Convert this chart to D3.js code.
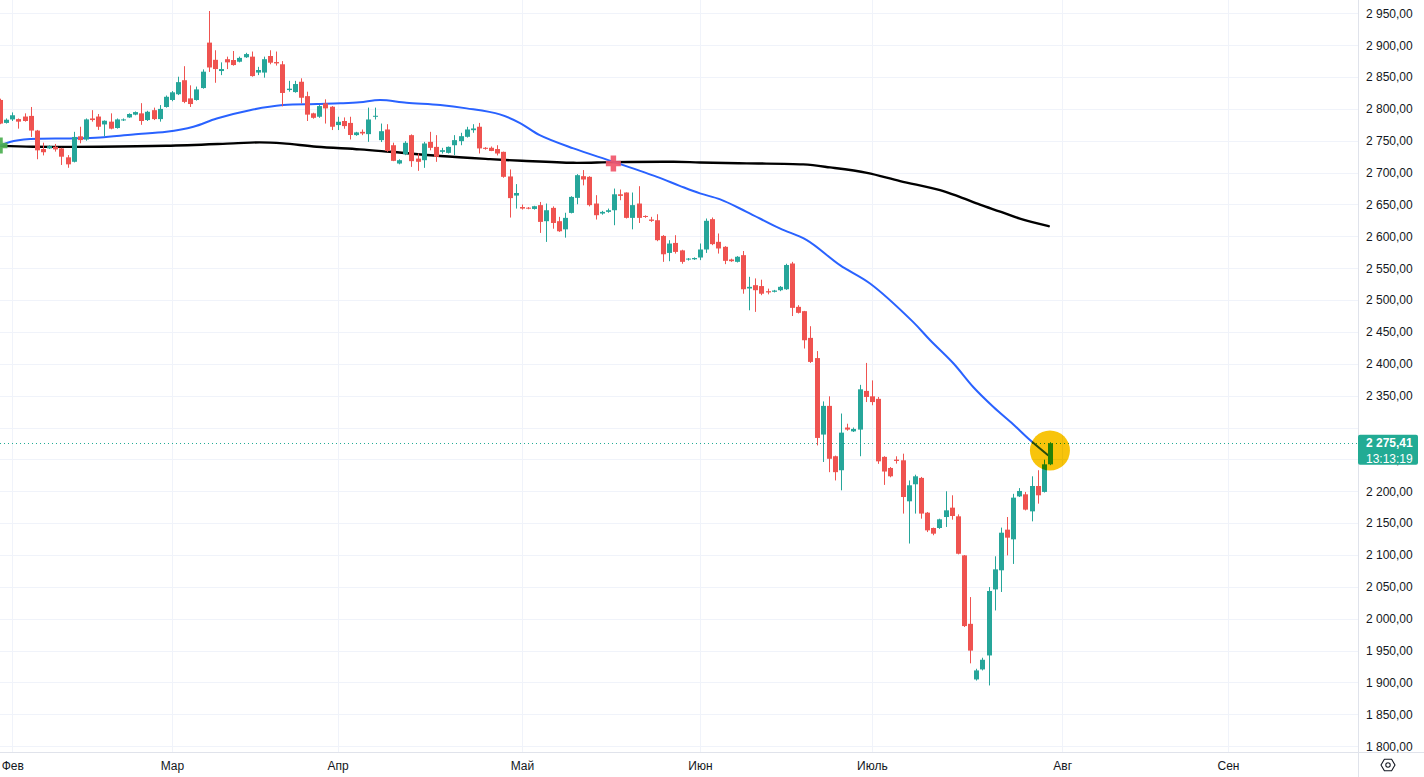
<!DOCTYPE html>
<html><head><meta charset="utf-8">
<script src="https://cdn.jsdelivr.net/npm/d3@7"></script>
<style>
html,body{margin:0;padding:0;background:#fff;}
svg{display:block;font-family:"Liberation Sans",Arial,sans-serif;}
</style></head><body>
<svg id="chart" width="1424" height="777"></svg>
<script>
// ---------- DATA ----------
const opens = [2814,2778,2783.5,2784,2788,2789,2766,2737,2738,2740.6,
2738,2724,2717,2757,2752,2785,2788,2775.6,2780,2770,
2782,2786.6,2791,2793,2782.5,2798,2784,2803,2814,2823,
2845,2816.5,2814,2832.7,2904,2877,2859.4,2878,2876.7,2874,
2881,2882,2857,2857,2883,2873.5,2870,2829.6,2826.4,2842.6,
2820,2793,2787.7,2808.6,2803.4,2774.6,2781,2778,2758.9,2764,
2760.4,2787.6,2751,2767.7,2743,2714.3,2729,2758.8,2722,2719.5,
2748.3,2740.4,2732.6,2731,2743,2749.4,2756.2,2766.6,2772,2739,
2739,2737,2732.6,2694,2664,2646,2645,2643,2649,2623.8,
2644.7,2623.8,2611,2636.8,2660.4,2694.4,2693.4,2651.5,2635.8,2638.4,
2641,2666,2668.8,2629,2651.5,2632,2626.4,2625.3,2600.7,2574,
2589.7,2578,2563.6,2564,2566.8,2579.4,2627,2591.4,2583.6,2563.7,
2560,2570.5,2518.2,2523.4,2522,2514,2513,2515.5,2517,2557.4,
2489.4,2482.6,2440.7,2409,2289,2334,2255,2233,2300,2294,
2296.8,2357.5,2349,2345,2254,2236.6,2249.7,2248.6,2184.3,2211,
2221,2166.4,2142.4,2142.4,2159.6,2174.3,2160.7,2099.4,1992,1904.8,
1920.5,1942.4,2046,2076,2139.8,2124.6,2192,2195.2,2168.5,2208.3,
2199,2242.3];
const highs = [2816,2785,2794.5,2785,2793,2803,2767,2747,2743,2745,
2739,2727.5,2764,2772,2785,2798,2792,2782,2793,2785,
2785,2793,2796,2809,2797,2802,2806,2821,2828,2850.5,
2867,2837,2835,2862,2953.6,2892,2873,2882,2890.8,2882,
2888,2890,2866,2882,2892,2890,2875,2844,2844,2848,
2827,2794,2806,2815,2804.4,2787.7,2786.6,2787.7,2764,2767.7,
2802,2802,2777,2776,2747,2721,2749.4,2760,2730,2748.3,
2764,2758.8,2738.9,2741,2758.8,2762.5,2771.9,2776,2778,2740,
2741,2743,2733,2705,2682,2650,2646,2648,2654,2651.5,
2647,2630.6,2637,2663,2697.6,2704,2694.4,2664.6,2640,2643.6,
2675,2673.5,2669,2668.8,2678.7,2633,2630.6,2634.7,2602,2594,
2601.8,2579,2566,2567,2588.8,2628,2629.6,2604.5,2584.6,2565,
2569,2577,2536.5,2534,2532,2518,2516,2522,2557,2560,
2492,2483,2459,2420,2341,2349,2256,2322,2306,2300,
2367,2401.4,2374,2348,2255,2238,2254.9,2259,2217,2226,
2222.5,2167.5,2143,2157,2200,2193.7,2163.8,2100,2034,1921.5,
1938.8,2049.7,2098,2143,2159.6,2196,2205,2199,2223.5,2233,
2249.6,2277];
const lows = [2776,2777,2781,2769,2780,2756,2721,2727,2737,2733,
2712,2707.6,2716,2746,2750,2780,2767,2757,2768,2769,
2781,2786,2790,2775,2781,2782.5,2780,2802,2812,2821.7,
2809,2803,2813,2831.7,2858,2841,2853,2862.5,2867.8,2873,
2880,2850.5,2853,2849,2870,2868,2804,2827,2825.4,2808.6,
2781,2784.6,2786,2777,2766.8,2766.8,2768.8,2752,2757.8,2758.8,
2748.3,2783.4,2748,2732.6,2718,2713,2727.4,2709,2702.8,2707.5,
2735,2716.9,2730,2730,2727.4,2743,2755,2762.5,2730,2736,
2733.7,2727,2692,2629.5,2643.6,2642,2642.5,2642,2605.4,2591.3,
2612,2607,2598,2636,2650.4,2680,2647,2626.4,2634,2637,
2617.5,2656.7,2628,2611,2621,2629,2622.7,2592.4,2560,2561,
2573,2557,2562,2563,2562.7,2574,2586.2,2573,2556.4,2560,
2559,2510,2484,2481.5,2507.7,2509,2512,2514,2516,2475,
2479,2424,2401.4,2272,2246,2230,2217,2201.5,2295,2293,
2255,2340,2335,2243,2210,2222,2243.4,2165,2118,2165,
2157,2136,2131,2141,2144,2155.4,2101,1987,1930,1903,
1918.9,1895.3,2013,2042,2099.4,2086,2191,2170,2152.8,2180.6,
2198,2241];
const closes = [2777,2783,2790,2780,2781,2766,2735,2732,2741.6,2736.4,
2725,2713,2756,2751,2783.5,2782.5,2772,2781.4,2769,2783.5,
2783.5,2792,2795,2781,2795.5,2784,2800,2819,2826,2842,
2811,2807.6,2830.6,2858.4,2865,2862.5,2862.5,2873,2868.8,2880,
2886,2851.5,2861,2878,2872.5,2871.4,2825,2831.7,2839,2817.5,
2791,2786,2804.4,2800.8,2772,2779.8,2773,2759,2763.1,2761.4,
2783.4,2789.2,2765,2734.2,2718.5,2719.5,2746.8,2718,2717,2745.7,
2738.9,2724.8,2735.2,2740.4,2751,2757.2,2767.7,2769.3,2738,2737.3,
2734,2730,2693.4,2660,2668,2643.6,2643.6,2647.3,2622.7,2641,
2621,2608,2629,2661.9,2696,2689.2,2649,2633.2,2638.4,2641,
2666,2663.5,2629,2649,2629,2630.6,2624.3,2594,2571.9,2588.7,
2575.6,2560,2565.1,2566,2579.4,2624.4,2587.8,2581,2561.6,2561,
2568,2517,2520.8,2515.5,2510,2512,2515,2520.8,2555,2487.8,
2480,2437,2403,2283.7,2334,2251,2230,2292,2296.8,2297.8,
2360,2348,2340,2247,2231,2223.5,2247.6,2191,2209.4,2223.5,
2165,2138.7,2133.5,2156,2170.1,2161.2,2102,1988.5,1950,1918.9,
1935.6,2043.5,2077.5,2135,2127.2,2190,2200.5,2171.2,2208.3,2193.7,
2242.3,2275.41];

// moving averages (bar index, value)
const blueIdx = [0,1.6,4.9,11.4,16.3,21.7,27.1,31.5,35.3,40.7,46.1,51.6,55.4,58.6,61.9,66.2,71.7,76,81.4,84.7,87.9,93.4,99.9,107,110.7,114,117.3,121.6,127,131.4,136.8,141.7,148.7,151.5,155.3,158.5,161.8,165,167.8,170.7];
const blueVal = [2742,2748,2752.6,2753.7,2755.3,2760,2764,2772,2785,2798,2806,2807.6,2808.7,2810.3,2813.9,2809.6,2806,2800.8,2791.4,2777.8,2758.9,2738,2717,2693.4,2679.3,2667.4,2658,2638.5,2612.4,2594.1,2554.8,2526.1,2465.8,2437,2400.5,2363.7,2332.3,2305.2,2280,2256.5];
const blackIdx = [0,5.4,16.3,27.1,38,42.3,46.1,51.6,58.6,63.5,71.7,79.8,85,93.4,99.9,109.7,114,121.6,130.8,135.2,141.2,146.6,153.1,156.4,159.6,162.9,166.1,170.8];
const blackVal = [2742,2740.6,2740.6,2742.1,2745.9,2747.5,2745.9,2740.6,2736.5,2732.7,2726,2721.2,2718.6,2715.4,2716.5,2717,2716,2714.5,2712.9,2708.2,2699.7,2686.7,2672.6,2661.6,2649.8,2638.8,2627.8,2616];

// cross markers
const crossIdx = [0, 99.9];
const crossVal = [2742.5, 2714.5];
const crossColor = ["#4caf50", "#f0566a"];

// axes
const monthLabels = ["Фев","Мар","Апр","Май","Июн","Июль","Авг","Сен"];
const monthIdx = [2,28,55,85,114,142,173,200];
const priceTicks = [1800,1850,1900,1950,2000,2050,2100,2150,2200,2250,2300,2350,2400,2450,2500,2550,2600,2650,2700,2750,2800,2850,2900,2950];

const lastPrice = 2275.41;
const lastPriceText = "2 275,41";
const countdownText = "13:13:19";
const highlightIdx = 171;
const highlightVal = 2264;

// ---------- LAYOUT ----------
const W = 1424, H = 777;
const plotW = 1358, plotH = 752;
const svg = d3.select("#chart");

const x = d3.scaleLinear().domain([0, 200]).range([0, 1228]);
const y = d3.scaleLinear().domain([1800, 2950]).range([746.2, 13.3]);

const ru = d3.formatLocale({decimal: ",", thousands: "\u00a0", grouping: [3], currency: ["", ""]});
const fmt = ru.format(",.2f");

svg.append("rect").attr("width", W).attr("height", H).attr("fill", "#ffffff");

svg.append("defs").append("clipPath").attr("id", "plotclip")
  .append("rect").attr("x", 0).attr("y", 0).attr("width", plotW).attr("height", plotH);

const plot = svg.append("g").attr("clip-path", "url(#plotclip)");

// grid
plot.append("g").selectAll("line").data(priceTicks).join("line")
  .attr("x1", 0).attr("x2", plotW)
  .attr("y1", d => Math.round(y(d)) + 0.5).attr("y2", d => Math.round(y(d)) + 0.5)
  .attr("stroke", "#f0f3fa").attr("stroke-width", 1);
plot.append("g").selectAll("line").data(monthIdx).join("line")
  .attr("y1", 0).attr("y2", plotH)
  .attr("x1", d => Math.round(x(d)) + 0.5).attr("x2", d => Math.round(x(d)) + 0.5)
  .attr("stroke", "#f0f3fa").attr("stroke-width", 1);

// last price dotted line
plot.append("line")
  .attr("x1", 0).attr("x2", plotW)
  .attr("y1", Math.round(y(lastPrice)) + 0.5).attr("y2", Math.round(y(lastPrice)) + 0.5)
  .attr("stroke", "#22ab94").attr("stroke-width", 1).attr("stroke-dasharray", "1,3");

// moving averages
const line = d3.line().x(d => x(d[0])).y(d => y(d[1])).curve(d3.curveCatmullRom.alpha(0.5));
plot.append("path").datum(blackIdx.map((d, i) => [d, blackVal[i]]))
  .attr("d", line).attr("fill", "none").attr("stroke", "#000000").attr("stroke-width", 2.4)
  .attr("stroke-linejoin", "round").attr("stroke-linecap", "round");
plot.append("path").datum(blueIdx.map((d, i) => [d, blueVal[i]]))
  .attr("d", line).attr("fill", "none").attr("stroke", "#2962ff").attr("stroke-width", 2)
  .attr("stroke-linejoin", "round").attr("stroke-linecap", "round");

// candles
const bars = opens.map((o, i) => ({i, o, h: Math.max(highs[i], o, closes[i]), l: Math.min(lows[i], o, closes[i]), c: closes[i]}));
const up = "#26a69a", down = "#ef5350";
const cg = plot.append("g");
cg.selectAll("line").data(bars).join("line")
  .attr("x1", d => Math.round(x(d.i)) + 0.5).attr("x2", d => Math.round(x(d.i)) + 0.5)
  .attr("y1", d => y(d.h)).attr("y2", d => y(d.l))
  .attr("stroke", d => d.c >= d.o ? up : down).attr("stroke-width", 1);
cg.selectAll("rect").data(bars).join("rect")
  .attr("x", d => Math.round(x(d.i)) - 2)
  .attr("width", 5)
  .attr("y", d => y(Math.max(d.o, d.c)))
  .attr("height", d => Math.max(1, Math.abs(y(d.o) - y(d.c))))
  .attr("fill", d => d.c >= d.o ? up : down);

// cross markers
const crosses = crossIdx.map((d, i) => ({i: d, v: crossVal[i], col: crossColor[i]}));
plot.append("g").selectAll("path").data(crosses).join("path")
  .attr("d", d => {
    const cx = x(d.i), cy = y(d.v);
    return `M${cx - 7.5},${cy}H${cx + 7.5}M${cx},${cy - 8}V${cy + 8}`;
  })
  .attr("stroke", d => d.col).attr("stroke-width", 5.5).attr("fill", "none").attr("opacity", 0.92);

// highlight circle
plot.append("circle")
  .attr("cx", x(highlightIdx)).attr("cy", y(highlightVal)).attr("r", 20)
  .attr("fill", "#f8c40c").style("mix-blend-mode", "multiply");

// axis borders
svg.append("line").attr("x1", plotW + 0.5).attr("x2", plotW + 0.5).attr("y1", 0).attr("y2", H)
  .attr("stroke", "#e0e3eb");
svg.append("line").attr("x1", 0).attr("x2", W).attr("y1", plotH + 0.5).attr("y2", plotH + 0.5)
  .attr("stroke", "#e0e3eb");

// right price axis
const labelTicks = priceTicks.filter(t => Math.abs(y(t) - y(lastPrice)) > 16);
const yAxis = d3.axisRight(y).tickValues(labelTicks).tickFormat(fmt).tickSize(0).tickPadding(8);
const yg = svg.append("g").attr("transform", `translate(${plotW},0)`).call(yAxis);
yg.select(".domain").remove();
yg.selectAll("text").attr("font-size", 12).attr("fill", "#131722")
  .attr("font-family", "'Liberation Sans', Arial, sans-serif");

// bottom time axis
const xAxis = d3.axisBottom(x).tickValues(monthIdx).tickFormat((d, i) => monthLabels[i]).tickSize(0).tickPadding(9.5);
const xg = svg.append("g").attr("transform", `translate(0,${plotH})`).call(xAxis);
xg.select(".domain").remove();
xg.selectAll("text").attr("font-size", 12).attr("fill", "#131722")
  .attr("font-family", "'Liberation Sans', Arial, sans-serif");

// last price label
const ly = y(lastPrice);
svg.append("rect").attr("x", plotW).attr("y", ly - 8.5).attr("width", 60).attr("height", 30)
  .attr("rx", 2).attr("fill", "#22ab94");
svg.append("text").attr("x", plotW + 8).attr("y", ly + 3.5).text(lastPriceText)
  .attr("font-size", 12).attr("font-weight", "bold").attr("fill", "#ffffff");
svg.append("text").attr("x", plotW + 8).attr("y", ly + 19.5).text(countdownText)
  .attr("font-size", 12).attr("fill", "#ffffff");

// settings icon
const ic = svg.append("g").attr("transform", "translate(1388,765)");
ic.append("path").attr("d", "M-7,0L-3.6,-5.8H3.6L7,0L3.6,5.8H-3.6Z")
  .attr("fill", "none").attr("stroke", "#131722").attr("stroke-width", 1.1).attr("stroke-linejoin", "round");
ic.append("circle").attr("r", 2.2).attr("fill", "none").attr("stroke", "#131722").attr("stroke-width", 1.1);
</script>
</body></html>
